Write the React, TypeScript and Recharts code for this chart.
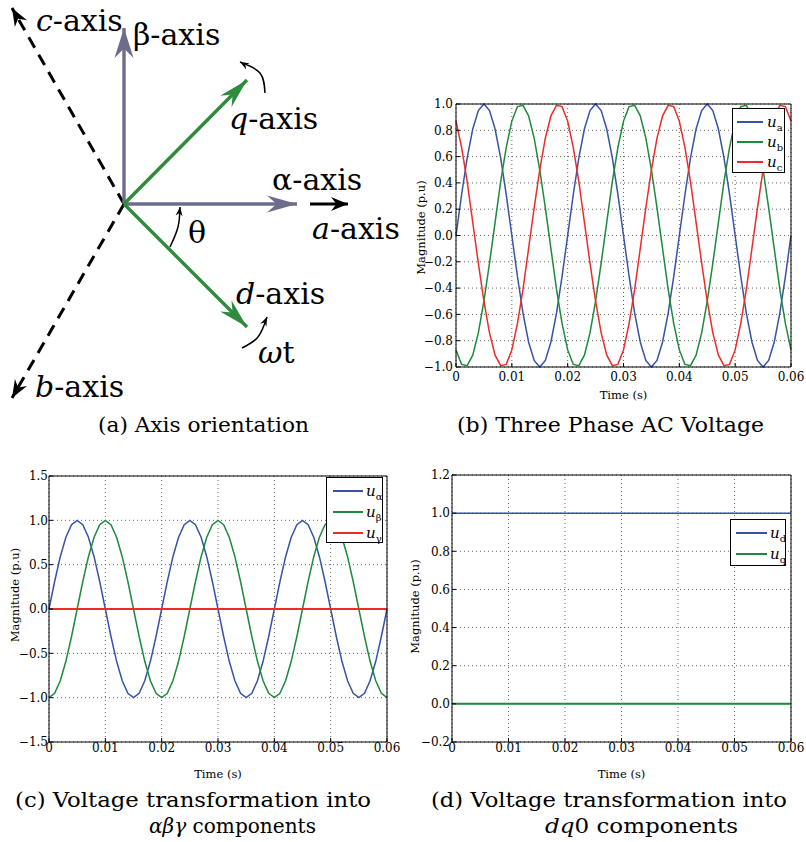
import React from 'react';
import {
  ComposedChart,
  LineChart,
  Line,
  Scatter,
  XAxis,
  YAxis,
  CartesianGrid,
  Legend,
  Label,
} from 'recharts';

const SERIF = '"DejaVu Serif", "Liberation Serif", serif';

// sample times (s), 1 ms step
const TIME = [
  0, 0.001, 0.002, 0.003, 0.004, 0.005, 0.006, 0.007, 0.008, 0.009,
  0.01, 0.011, 0.012, 0.013, 0.014, 0.015, 0.016, 0.017, 0.018, 0.019,
  0.02, 0.021, 0.022, 0.023, 0.024, 0.025, 0.026, 0.027, 0.028, 0.029,
  0.03, 0.031, 0.032, 0.033, 0.034, 0.035, 0.036, 0.037, 0.038, 0.039,
  0.04, 0.041, 0.042, 0.043, 0.044, 0.045, 0.046, 0.047, 0.048, 0.049,
  0.05, 0.051, 0.052, 0.053, 0.054, 0.055, 0.056, 0.057, 0.058, 0.059,
  0.06,
];

// (b) three phase voltages
const U_A = [
  0, 0.31, 0.59, 0.81, 0.95, 1, 0.95, 0.81, 0.59, 0.31,
  0, -0.31, -0.59, -0.81, -0.95, -1, -0.95, -0.81, -0.59, -0.31,
  0, 0.31, 0.59, 0.81, 0.95, 1, 0.95, 0.81, 0.59, 0.31,
  0, -0.31, -0.59, -0.81, -0.95, -1, -0.95, -0.81, -0.59, -0.31,
  0, 0.31, 0.59, 0.81, 0.95, 1, 0.95, 0.81, 0.59, 0.31,
  0, -0.31, -0.59, -0.81, -0.95, -1, -0.95, -0.81, -0.59, -0.31,
  0,
];
const U_B = [
  -0.87, -0.98, -0.99, -0.91, -0.74, -0.5, -0.21, 0.1, 0.41, 0.67,
  0.87, 0.98, 0.99, 0.91, 0.74, 0.5, 0.21, -0.1, -0.41, -0.67,
  -0.87, -0.98, -0.99, -0.91, -0.74, -0.5, -0.21, 0.1, 0.41, 0.67,
  0.87, 0.98, 0.99, 0.91, 0.74, 0.5, 0.21, -0.1, -0.41, -0.67,
  -0.87, -0.98, -0.99, -0.91, -0.74, -0.5, -0.21, 0.1, 0.41, 0.67,
  0.87, 0.98, 0.99, 0.91, 0.74, 0.5, 0.21, -0.1, -0.41, -0.67,
  -0.87,
];
const U_C = [
  0.87, 0.67, 0.41, 0.1, -0.21, -0.5, -0.74, -0.91, -0.99, -0.98,
  -0.87, -0.67, -0.41, -0.1, 0.21, 0.5, 0.74, 0.91, 0.99, 0.98,
  0.87, 0.67, 0.41, 0.1, -0.21, -0.5, -0.74, -0.91, -0.99, -0.98,
  -0.87, -0.67, -0.41, -0.1, 0.21, 0.5, 0.74, 0.91, 0.99, 0.98,
  0.87, 0.67, 0.41, 0.1, -0.21, -0.5, -0.74, -0.91, -0.99, -0.98,
  -0.87, -0.67, -0.41, -0.1, 0.21, 0.5, 0.74, 0.91, 0.99, 0.98,
  0.87,
];

// (c) alpha-beta-gamma
const U_ALPHA = [
  0, 0.31, 0.59, 0.81, 0.95, 1, 0.95, 0.81, 0.59, 0.31,
  0, -0.31, -0.59, -0.81, -0.95, -1, -0.95, -0.81, -0.59, -0.31,
  0, 0.31, 0.59, 0.81, 0.95, 1, 0.95, 0.81, 0.59, 0.31,
  0, -0.31, -0.59, -0.81, -0.95, -1, -0.95, -0.81, -0.59, -0.31,
  0, 0.31, 0.59, 0.81, 0.95, 1, 0.95, 0.81, 0.59, 0.31,
  0, -0.31, -0.59, -0.81, -0.95, -1, -0.95, -0.81, -0.59, -0.31,
  0,
];
const U_BETA = [
  -1, -0.95, -0.81, -0.59, -0.31, 0, 0.31, 0.59, 0.81, 0.95,
  1, 0.95, 0.81, 0.59, 0.31, 0, -0.31, -0.59, -0.81, -0.95,
  -1, -0.95, -0.81, -0.59, -0.31, 0, 0.31, 0.59, 0.81, 0.95,
  1, 0.95, 0.81, 0.59, 0.31, 0, -0.31, -0.59, -0.81, -0.95,
  -1, -0.95, -0.81, -0.59, -0.31, 0, 0.31, 0.59, 0.81, 0.95,
  1, 0.95, 0.81, 0.59, 0.31, 0, -0.31, -0.59, -0.81, -0.95,
  -1,
];

// flat signals, coarse sampling is enough
const TIME_FLAT = [0, 0.01, 0.02, 0.03, 0.04, 0.05, 0.06];
const U_GAMMA = [0, 0, 0, 0, 0, 0, 0];
const U_D = [1, 1, 1, 1, 1, 1, 1];
const U_Q = [0, 0, 0, 0, 0, 0, 0];

const X_TICKS = [0, 0.01, 0.02, 0.03, 0.04, 0.05, 0.06];
const X_LABELS = ['0', '0.01', '0.02', '0.03', '0.04', '0.05', '0.06'];
const Y_TICKS_B = [-1, -0.8, -0.6, -0.4, -0.2, 0, 0.2, 0.4, 0.6, 0.8, 1];
const Y_LABELS_B = ['\u22121.0', '\u22120.8', '\u22120.6', '\u22120.4', '\u22120.2', '0.0', '0.2', '0.4', '0.6', '0.8', '1.0'];
const Y_TICKS_C = [-1.5, -1, -0.5, 0, 0.5, 1, 1.5];
const Y_LABELS_C = ['\u22121.5', '\u22121.0', '\u22120.5', '0.0', '0.5', '1.0', '1.5'];
const Y_TICKS_D = [-0.2, 0, 0.2, 0.4, 0.6, 0.8, 1, 1.2];
const Y_LABELS_D = ['\u22120.2', '0.0', '0.2', '0.4', '0.6', '0.8', '1.0', '1.2'];

const BLUE = '#3953a4';
const GREEN = '#1d8a3d';
const RED = '#ee2a2a';
const GREY = '#6d6d8b';
const DGREEN = '#2e8a3c';

// (a) axis diagram, origin at the common point, y up
const BETA_AXIS = [{ x: 0, y: 0 }, { x: 0, y: 176 }];
const ALPHA_AXIS = [{ x: 0, y: 0 }, { x: 173, y: 0 }];
const A_AXIS = [{ x: 186, y: 0 }, { x: 224, y: 0 }];
const Q_AXIS = [{ x: 0, y: 0 }, { x: 123, y: 124 }];
const D_AXIS = [{ x: 0, y: 0 }, { x: 123, y: -123 }];
const C_AXIS = [{ x: 0, y: 0 }, { x: -112, y: 196 }];
const B_AXIS = [{ x: 0, y: 0 }, { x: -112, y: -194 }];
const Q_ARC = [{ x: 141, y: 111 }, { x: 136, y: 131 }, { x: 116, y: 142 }];
const THETA_ARC = [{ x: 46, y: -43 }, { x: 54, y: -23 }, { x: 56, y: -3 }];
const WT_ARC = [{ x: 118, y: -144 }, { x: 134, y: -133 }, { x: 143, y: -113 }];
const DIAGRAM_LABELS = [
  { x: -88, y: 173, it: 'c', rest: '-axis' },
  { x: 9, y: 159, it: '', rest: '\u03b2-axis' },
  { x: 105, y: 75, it: 'q', rest: '-axis' },
  { x: 148, y: 14, it: '', rest: '\u03b1-axis' },
  { x: 188, y: -35, it: 'a', rest: '-axis' },
  { x: 64, y: -39, it: '', rest: '\u03b8' },
  { x: 112, y: -100, it: 'd', rest: '-axis' },
  { x: 134, y: -159, it: '\u03c9', rest: 't' },
  { x: -89, y: -193, it: 'b', rest: '-axis' },
];

const arrowHead = (pts: { x: number; y: number }[], color: string, len: number, wid: number) =>
  (props: any) => {
    const { cx, cy, index } = props;
    if (index !== pts.length - 1) return <g key={`n-${index}`} />;
    const prev = pts[index - 1];
    const cur = pts[index];
    const ang = (Math.atan2(-(cur.y - prev.y), cur.x - prev.x) * 180) / Math.PI;
    return (
      <path
        key={`h-${index}`}
        d={`M0,0 L${-len},${-wid / 2} L${-len * 0.68},0 L${-len},${wid / 2} Z`}
        transform={`translate(${cx},${cy}) rotate(${ang})`}
        fill={color}
      />
    );
  };

const renderDiagramLabel = (p: any) => (
  <text x={p.cx} y={p.cy} style={{ fontFamily: SERIF, fontSize: 30 }} fill="#000">
    {p.payload.it ? <tspan fontStyle="italic">{p.payload.it}</tspan> : null}
    <tspan>{p.payload.rest}</tspan>
  </text>
);

function AxisDiagram() {
  const arrow = (data: any[], color: string, w: number, len: number, wid: number, dash?: string) => (
    <Line
      data={data}
      dataKey="y"
      stroke={color}
      strokeWidth={w}
      strokeDasharray={dash}
      dot={arrowHead(data, color, len, wid)}
      activeDot={false}
      isAnimationActive={false}
    />
  );
  const arc = (data: any[]) => (
    <Line
      data={data}
      dataKey="y"
      type="natural"
      stroke="#000"
      strokeWidth={1.5}
      dot={arrowHead(data, '#000', 9, 7)}
      activeDot={false}
      isAnimationActive={false}
    />
  );
  return (
    <ComposedChart width={410} height={410} margin={{ top: 0, right: 0, bottom: 0, left: 0 }}>
      <XAxis type="number" dataKey="x" domain={[-124, 286]} hide />
      <YAxis type="number" dataKey="y" domain={[-206, 204]} hide />
      {arrow(C_AXIS, '#000', 3, 18, 14, '12 8')}
      {arrow(B_AXIS, '#000', 3, 18, 14, '12 8')}
      {arrow(BETA_AXIS, GREY, 3.4, 30, 19)}
      {arrow(ALPHA_AXIS, GREY, 3.4, 30, 17)}
      {arrow(A_AXIS, '#000', 2.8, 17, 14)}
      {arrow(Q_AXIS, DGREEN, 3.4, 30, 16)}
      {arrow(D_AXIS, DGREEN, 3.4, 30, 16)}
      {arc(Q_ARC)}
      {arc(THETA_ARC)}
      {arc(WT_ARC)}
      <Scatter data={DIAGRAM_LABELS} shape={renderDiagramLabel} isAnimationActive={false} />
    </ComposedChart>
  );
}

const TICK = { fontFamily: SERIF, fontSize: 12, fill: '#000' };

const labelOf = (ticks: number[], labels: string[]) => (v: number) => {
  const i = ticks.findIndex((t) => Math.abs(t - v) < 1e-9);
  return i >= 0 ? labels[i] : '';
};

interface LegendItem { sub: string; color: string }

function LegendBox({ items, w, h, padTop, rowH, lineL, lineW, textL }: any) {
  return (
    <div
      style={{
        width: w,
        height: h,
        boxSizing: 'border-box',
        border: '1.3px solid #000',
        background: '#fff',
        position: 'relative',
      }}
    >
      {items.map((it: LegendItem, i: number) => (
        <div key={it.sub} style={{ position: 'absolute', left: 0, top: padTop + i * rowH, height: rowH, width: '100%' }}>
          <div style={{ position: 'absolute', left: lineL, top: rowH / 2 - 1, width: lineW, height: 2, background: it.color }} />
          <div
            style={{
              position: 'absolute',
              left: textL,
              top: 0,
              height: rowH,
              lineHeight: `${rowH}px`,
              fontFamily: SERIF,
              whiteSpace: 'nowrap',
              color: '#000',
            }}
          >
            <span style={{ fontStyle: 'italic', fontSize: 15 }}>u</span>
            <span style={{ fontSize: 10, position: 'relative', top: 4 }}>{it.sub}</span>
          </div>
        </div>
      ))}
    </div>
  );
}

function WavePanel(props: any) {
  const {
    left, top, width, height, margin, yWidth, xHeight, rows, series, yTicks, yLabels,
    xTickMargin, yTickMargin, magDx, magDy, timeOffset, legend,
  } = props;
  const yDomain = [yTicks[0], yTicks[yTicks.length - 1]];
  const magLabel = (p: any) => {
    const vb = p.viewBox;
    const cx = vb.x + magDx;
    const cy = vb.y + vb.height / 2 + magDy;
    return (
      <text
        x={cx}
        y={cy}
        transform={`rotate(-90 ${cx} ${cy})`}
        textAnchor="middle"
        dominantBaseline="central"
        style={{ fontFamily: SERIF, fontSize: 11.5 }}
        fill="#000"
      >
        Magnitude (p.u)
      </text>
    );
  };
  return (
    <div style={{ position: 'absolute', left, top }}>
      <LineChart width={width} height={height} data={rows} margin={margin}>
        <CartesianGrid stroke="#555" strokeDasharray="1 3" strokeWidth={0.9} />
        <XAxis
          type="number"
          dataKey="t"
          domain={[0, 0.06]}
          ticks={X_TICKS}
          interval={0}
          tickFormatter={labelOf(X_TICKS, X_LABELS)}
          tickSize={-4}
          tickMargin={xTickMargin}
          height={xHeight}
          axisLine={{ stroke: '#000', strokeWidth: 1 }}
          tickLine={{ stroke: '#000' }}
          tick={TICK}
        >
          <Label
            value="Time (s)"
            position="insideBottom"
            offset={timeOffset}
            style={{ fontFamily: SERIF, fontSize: 11.5, fill: '#000' }}
          />
        </XAxis>
        <XAxis
          xAxisId="top"
          orientation="top"
          type="number"
          domain={[0, 0.06]}
          ticks={X_TICKS}
          interval={0}
          tick={false}
          tickSize={-4}
          height={1}
          axisLine={{ stroke: '#000', strokeWidth: 1 }}
          tickLine={{ stroke: '#000' }}
        />
        <YAxis
          type="number"
          domain={yDomain}
          ticks={yTicks}
          interval={0}
          tickFormatter={labelOf(yTicks, yLabels)}
          tickSize={-4}
          tickMargin={yTickMargin}
          width={yWidth}
          axisLine={{ stroke: '#000', strokeWidth: 1 }}
          tickLine={{ stroke: '#000' }}
          tick={TICK}
        >
          <Label content={magLabel} />
        </YAxis>
        <YAxis
          yAxisId="right"
          orientation="right"
          type="number"
          domain={yDomain}
          ticks={yTicks}
          interval={0}
          tick={false}
          tickSize={-4}
          width={1}
          axisLine={{ stroke: '#000', strokeWidth: 1 }}
          tickLine={{ stroke: '#000' }}
        />
        {series.map((s: any) => (
          <Line
            key={s.key}
            data={s.data}
            dataKey={s.key}
            type="linear"
            stroke={s.color}
            strokeWidth={s.width || 1.5}
            dot={false}
            activeDot={false}
            isAnimationActive={false}
          />
        ))}
        <Legend
          layout="vertical"
          align="center"
          verticalAlign="middle"
          wrapperStyle={{ left: legend.left, top: legend.top, width: legend.w, height: legend.h }}
          content={() => <LegendBox {...legend} />}
        />
      </LineChart>
    </div>
  );
}

const rowsB = TIME.map((t, i) => ({ t, ua: U_A[i], ub: U_B[i], uc: U_C[i] }));
const rowsC = TIME.map((t, i) => ({ t, ual: U_ALPHA[i], ube: U_BETA[i] }));
const rowsGamma = TIME_FLAT.map((t, i) => ({ t, uga: U_GAMMA[i] }));
const rowsD = TIME_FLAT.map((t, i) => ({ t, ud: U_D[i], uq: U_Q[i] }));

const CAP = { fontFamily: SERIF, fontSize: 21 };

export default function App() {
  return (
    <div style={{ position: 'relative', width: 806, height: 842, background: '#fff', overflow: 'hidden' }}>
      <style>{'body{margin:0;}'}</style>
      <div style={{ position: 'absolute', left: 0, top: 0 }}>
        <AxisDiagram />
      </div>

      <WavePanel
        left={400}
        top={90}
        width={406}
        height={312}
        margin={{ top: 13, right: 14, bottom: 0, left: 6 }}
        yWidth={50}
        xHeight={35}
        rows={rowsB}
        series={[
          { key: 'ua', color: BLUE },
          { key: 'ub', color: GREEN },
          { key: 'uc', color: RED },
        ]}
        yTicks={Y_TICKS_B}
        yLabels={Y_LABELS_B}
        xTickMargin={9}
        yTickMargin={7}
        magDx={15}
        magDy={-8}
        timeOffset={3}
        legend={{
          left: 332, top: 18, w: 53, h: 65, padTop: 3, rowH: 20, lineL: 4, lineW: 26, textL: 34,
          items: [
            { sub: 'a', color: BLUE },
            { sub: 'b', color: GREEN },
            { sub: 'c', color: RED },
          ],
        }}
      />

      <WavePanel
        left={0}
        top={460}
        width={400}
        height={325}
        margin={{ top: 15, right: 12, bottom: 0, left: 4 }}
        yWidth={45}
        xHeight={43}
        rows={rowsC}
        series={[
          { key: 'ual', color: BLUE },
          { key: 'ube', color: GREEN },
          { key: 'uga', color: RED, width: 2, data: rowsGamma },
        ]}
        yTicks={Y_TICKS_C}
        yLabels={Y_LABELS_C}
        xTickMargin={5}
        yTickMargin={5}
        magDx={11}
        magDy={-14}
        timeOffset={7}
        legend={{
          left: 326, top: 17, w: 57, h: 66, padTop: 2, rowH: 21, lineL: 6, lineW: 30, textL: 39,
          items: [
            { sub: '\u03b1', color: BLUE },
            { sub: '\u03b2', color: GREEN },
            { sub: '\u03b3', color: RED },
          ],
        }}
      />

      <WavePanel
        left={400}
        top={460}
        width={406}
        height={325}
        margin={{ top: 14, right: 14, bottom: 0, left: 4 }}
        yWidth={48}
        xHeight={43}
        rows={rowsD}
        series={[
          { key: 'ud', color: BLUE },
          { key: 'uq', color: GREEN, width: 2 },
        ]}
        yTicks={Y_TICKS_D}
        yLabels={Y_LABELS_D}
        xTickMargin={5}
        yTickMargin={6}
        magDx={11}
        magDy={-2}
        timeOffset={7}
        legend={{
          left: 330, top: 59, w: 56, h: 47, padTop: 2, rowH: 21, lineL: 5, lineW: 31, textL: 39,
          items: [
            { sub: 'd', color: BLUE },
            { sub: 'q', color: GREEN },
          ],
        }}
      />

      <svg width={806} height={842} style={{ position: 'absolute', left: 0, top: 0, pointerEvents: 'none' }}>
        <g style={CAP} fill="#000">
          <text x={98} y={432} textLength={211} lengthAdjust="spacingAndGlyphs">(a) Axis orientation</text>
          <text x={457} y={432} textLength={307} lengthAdjust="spacingAndGlyphs">(b) Three Phase AC Voltage</text>
          <text x={15} y={807} textLength={356} lengthAdjust="spacingAndGlyphs">(c) Voltage transformation into</text>
          <text x={149} y={833} textLength={167} lengthAdjust="spacingAndGlyphs">
            <tspan fontStyle="italic">{'\u03b1\u03b2\u03b3'}</tspan> components
          </text>
          <text x={431} y={807} textLength={356} lengthAdjust="spacingAndGlyphs">(d) Voltage transformation into</text>
          <text x={545} y={833} textLength={193} lengthAdjust="spacingAndGlyphs">
            <tspan fontStyle="italic">dq</tspan>0 components
          </text>
        </g>
      </svg>
    </div>
  );
}
